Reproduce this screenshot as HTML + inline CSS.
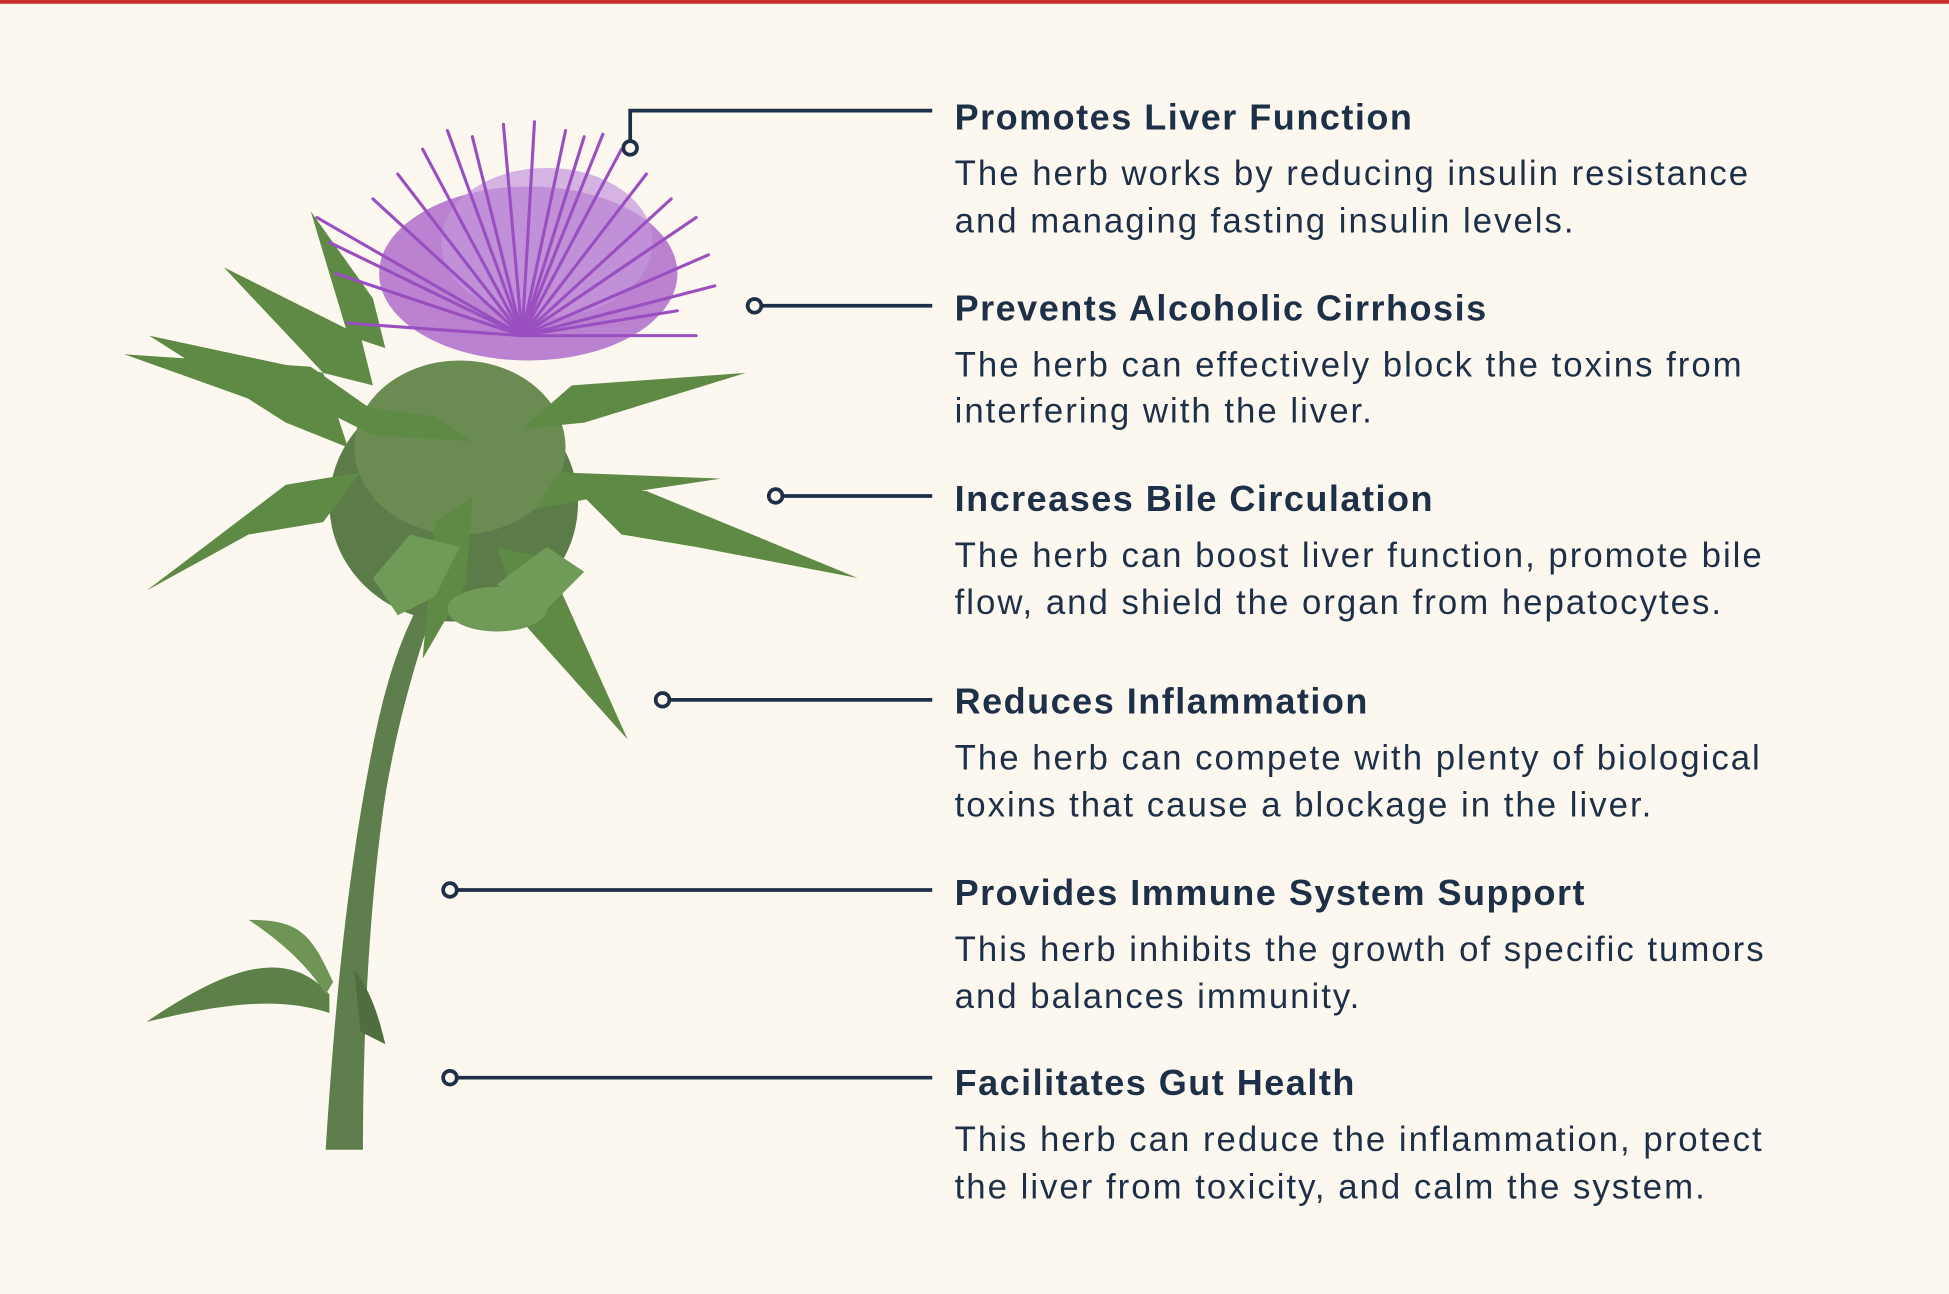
<!DOCTYPE html>
<html><head><meta charset="utf-8"><style>
html,body{margin:0;padding:0;background:#fcf8ef;}
svg{display:block}
.h{font-family:"Liberation Sans",sans-serif;font-weight:bold;font-size:29px;fill:#1e3048;letter-spacing:1.2px}
.b{font-family:"Liberation Sans",sans-serif;font-size:28px;fill:#1e3048;letter-spacing:1.6px}
.c{stroke:#1e3048;stroke-width:3;fill:none}
</style></head><body>
<svg width="1949" height="1294" viewBox="0 0 1568 1041" xmlns="http://www.w3.org/2000/svg">
<rect width="1568" height="1041" fill="#fcf8ef"/>
<rect width="1568" height="3" fill="#c62a2a"/>
<g>
<path d="M262 925 C270 800 280 700 300 600 C312 540 325 510 335 490 L348 492 C335 530 320 580 310 640 C298 720 292 820 292 925 Z" fill="#5f7e4e"/>
<path d="M265 800 C230 760 180 780 118 822 C170 810 220 800 265 815 Z" fill="#5c8048"/>
<path d="M268 790 C250 750 240 740 200 740 C230 760 250 780 262 800 Z" fill="#6e9556"/>
<path d="M285 780 C300 800 305 820 310 840 L290 830 Z" fill="#4e6e40"/>
<ellipse cx="365" cy="405" rx="100" ry="95" fill="#5b7c48"/>
<ellipse cx="370" cy="360" rx="85" ry="70" fill="#6a8c53"/>
<g fill="#5e8a46">
<polygon points="100,285 250,295 300,330 240,335"/>
<polygon points="120,270 260,300 280,360 230,340"/>
<polygon points="180,215 290,270 300,310 260,300"/>
<polygon points="250,170 300,240 310,280 280,270"/>
<polygon points="118,475 230,390 290,380 260,420 200,430"/>
<polygon points="600,300 460,310 420,345 470,340"/>
<polygon points="690,465 520,395 460,390 500,430 560,440"/>
<polygon points="580,385 450,380 430,410 480,400"/>
<polygon points="505,595 440,450 400,440 420,500"/>
<polygon points="240,320 350,335 380,355 300,350"/>
<polygon points="340,530 350,420 380,400 375,470"/>
</g>
<g fill="#6f9a58">
<polygon points="300,465 330,430 370,440 350,480 320,495"/>
<polygon points="400,470 440,440 470,460 430,500"/>
<ellipse cx="400" cy="490" rx="40" ry="18"/>
</g>
<ellipse cx="425" cy="220" rx="120" ry="70" fill="#a45bc6" opacity="0.75"/>
<ellipse cx="440" cy="195" rx="85" ry="60" fill="#c495dd" opacity="0.7"/>
<g stroke="#9a4fc0" stroke-width="2.5" stroke-linecap="round">
<line x1="420" y1="270" x2="380" y2="110"/><line x1="420" y1="270" x2="430" y2="98"/>
<line x1="420" y1="270" x2="470" y2="110"/><line x1="420" y1="270" x2="520" y2="140"/>
<line x1="420" y1="270" x2="560" y2="175"/><line x1="420" y1="270" x2="575" y2="230"/>
<line x1="420" y1="270" x2="560" y2="270"/><line x1="420" y1="270" x2="300" y2="160"/>
<line x1="420" y1="270" x2="255" y2="175"/><line x1="420" y1="270" x2="280" y2="260"/>
<line x1="420" y1="270" x2="340" y2="120"/><line x1="420" y1="270" x2="500" y2="120"/>
<line x1="420" y1="270" x2="545" y2="250"/><line x1="420" y1="270" x2="270" y2="220"/>
<line x1="420" y1="270" x2="405" y2="100"/><line x1="420" y1="270" x2="455" y2="105"/>
<line x1="420" y1="270" x2="320" y2="140"/><line x1="420" y1="270" x2="360" y2="105"/>
<line x1="420" y1="270" x2="540" y2="160"/><line x1="420" y1="270" x2="570" y2="205"/>
<line x1="420" y1="270" x2="265" y2="195"/><line x1="420" y1="270" x2="485" y2="108"/>
</g>
</g>
<path class="c" d="M750 89 H507 V113"/><circle class="c" cx="507" cy="119" r="5.5" fill="#fcf8ef"/>
<line class="c" x1="613" y1="246" x2="750" y2="246"/><circle class="c" cx="607" cy="246" r="5.5"/>
<line class="c" x1="630" y1="399" x2="750" y2="399"/><circle class="c" cx="624" cy="399" r="5.5"/>
<line class="c" x1="539" y1="563" x2="750" y2="563"/><circle class="c" cx="533" cy="563" r="5.5"/>
<line class="c" x1="368" y1="716" x2="750" y2="716"/><circle class="c" cx="362" cy="716" r="5.5"/>
<line class="c" x1="368" y1="867" x2="750" y2="867"/><circle class="c" cx="362" cy="867" r="5.5"/>
<text class="h" x="768" y="104">Promotes Liver Function</text>
<text class="b" x="768" y="149">The herb works by reducing insulin resistance</text>
<text class="b" x="768" y="187">and managing fasting insulin levels.</text>
<text class="h" x="768" y="258">Prevents Alcoholic Cirrhosis</text>
<text class="b" x="768" y="303">The herb can effectively block the toxins from</text>
<text class="b" x="768" y="340">interfering with the liver.</text>
<text class="h" x="768" y="411">Increases Bile Circulation</text>
<text class="b" x="768" y="456">The herb can boost liver function, promote bile</text>
<text class="b" x="768" y="494">flow, and shield the organ from hepatocytes.</text>
<text class="h" x="768" y="574">Reduces Inflammation</text>
<text class="b" x="768" y="619">The herb can compete with plenty of biological</text>
<text class="b" x="768" y="657">toxins that cause a blockage in the liver.</text>
<text class="h" x="768" y="728">Provides Immune System Support</text>
<text class="b" x="768" y="773">This herb inhibits the growth of specific tumors</text>
<text class="b" x="768" y="811">and balances immunity.</text>
<text class="h" x="768" y="881">Facilitates Gut Health</text>
<text class="b" x="768" y="926">This herb can reduce the inflammation, protect</text>
<text class="b" x="768" y="964">the liver from toxicity, and calm the system.</text>
</svg>
</body></html>
